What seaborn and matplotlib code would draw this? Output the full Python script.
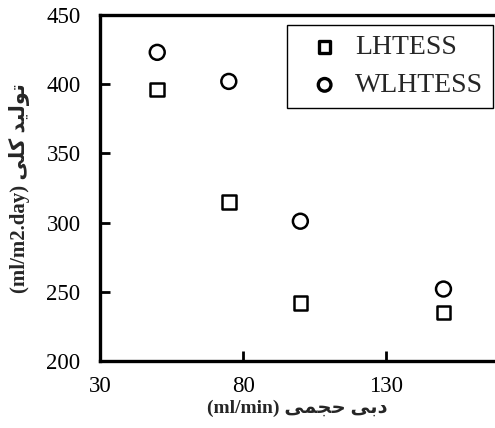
import matplotlib
matplotlib.use("Agg")
import matplotlib.pyplot as plt
import seaborn as sns
import pandas as pd

# Data
flow = [50, 75, 100, 150]
lhtess = [396, 315, 242, 235]
wlhtess = [423, 402, 301, 252]
series_names = ["LHTESS", "WLHTESS"]
xticks = [30, 80, 130]
yticks = [200, 250, 300, 350, 400, 450]

# Persian labels, pre-shaped (presentation forms, visual order)
fa_y = "\uFBFD\uFEE0\uFB90 \uFEAA\uFEF4\uFEDF\uFEEE\uFE97"   # تولید کلی
fa_x = "\uFBFD\uFEE4\uFEA0\uFEA3 \uFBFD\uFE91\uFEA9"        # دبی حجمی
ylabel = "(ml/m2.day) " + fa_y
xlabel = "(ml/min) " + fa_x

sns.set_theme(style="ticks")
fam = ["Liberation Serif", "DejaVu Sans"]
plt.rcParams["font.family"] = fam

fig = plt.figure(figsize=(4.95, 4.28), dpi=100)
ax = fig.add_axes([0.202, 0.1565, 0.798, 0.8085])

df = pd.DataFrame({"x": flow + flow,
                   "y": lhtess + wlhtess,
                   "s": [series_names[0]] * 4 + [series_names[1]] * 4})

sns.scatterplot(data=df[df.s == "LHTESS"], x="x", y="y", marker="s", s=95,
                facecolor="none", edgecolor="black", linewidth=1.8,
                label="LHTESS", ax=ax)
sns.scatterplot(data=df[df.s == "WLHTESS"], x="x", y="y", marker="o", s=115,
                facecolor="none", edgecolor="black", linewidth=1.8,
                label="WLHTESS", ax=ax)

ax.set_xlim(30, 168)
ax.set_ylim(200, 450)
ax.set_xticks(xticks)
ax.set_yticks(yticks)
ax.tick_params(direction="in", length=7, width=2.0, labelsize=16.5, colors="black",
               bottom=True, left=True, top=False, right=False)
ax.tick_params(axis="y", pad=14)
ax.tick_params(axis="x", pad=11)
for lab in ax.get_xticklabels() + ax.get_yticklabels():
    lab.set_family("Liberation Serif")

for side in ["left", "bottom", "top"]:
    ax.spines[side].set_visible(True)
    ax.spines[side].set_linewidth(2.4)
    ax.spines[side].set_color("black")
ax.spines["right"].set_visible(False)

ax.set_xlabel(xlabel, fontsize=14, fontweight="bold", family=fam, labelpad=2)
ax.set_ylabel(ylabel, fontsize=15, fontweight="bold", family=fam, labelpad=12)

leg = ax.legend(loc="upper right", bbox_to_anchor=(0.995, 0.971), fancybox=False,
                edgecolor="black", framealpha=1, markerscale=0.85,
                handletextpad=0.1, borderpad=0.35, labelspacing=0.45,
                handlelength=2.0, borderaxespad=0,
                prop={"family": "Liberation Serif", "size": 20})
leg.get_frame().set_linewidth(1.0)
for h in leg.legend_handles:
    h.set_linewidth(2.4)

fig.savefig("out.png", dpi=100)
